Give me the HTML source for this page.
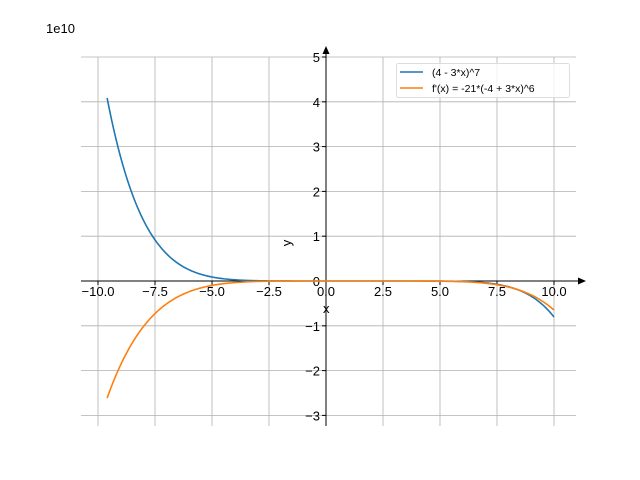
<!DOCTYPE html>
<html><head><style>body{margin:0;background:#fff}svg{display:block;font-family:"Liberation Sans","DejaVu Sans",sans-serif}</style></head>
<body>
<svg id="s" width="640" height="480" xmlns="http://www.w3.org/2000/svg">
<g stroke="#b0b0b0" stroke-width="0.8" id="grid"></g>
<g id="ticks" font-size="13" fill="#000"></g>
<line x1="326" y1="426" x2="326" y2="52" stroke="#000" stroke-width="1"/>
<polygon points="326,46 322.5,54 329.5,54" fill="#000"/>
<line x1="81" y1="281" x2="580" y2="281" stroke="#000" stroke-width="1"/>
<polygon points="586,281 578,277.5 578,284.5" fill="#000"/>
<path id="p1" fill="none" stroke="#1f77b4" stroke-width="1.6"/>
<path id="p2" fill="none" stroke="#ff7f0e" stroke-width="1.6"/>
<text x="46" y="33" font-size="13">1e10</text>
<text x="323" y="313" font-size="13">x</text>
<text x="291" y="243" font-size="13" transform="rotate(-90 291 243)" text-anchor="middle">y</text>
<rect x="396.5" y="63.5" width="173" height="34" rx="2" fill="#fff" fill-opacity="0.8" stroke="#ddd"/>
<line x1="400" y1="72" x2="423" y2="72" stroke="#1f77b4" stroke-width="1.6"/>
<line x1="400" y1="88" x2="423" y2="88" stroke="#ff7f0e" stroke-width="1.6"/>
<text x="432" y="76" font-size="10.5">(4 - 3*x)^7</text>
<text x="432" y="92" font-size="10.5">f'(x) = -21*(-4 + 3*x)^6</text>
</svg>
<script>
var X=function(x){return 326+x*22.8},Y=function(y){return 281-y*44.8/1e10};
var g=document.getElementById('grid'),t=document.getElementById('ticks'),ns='http://www.w3.org/2000/svg';
function el(p,n,a,txt){var e=document.createElementNS(ns,n);for(var k in a)e.setAttribute(k,a[k]);if(txt!=null)e.textContent=txt;p.appendChild(e);}
var xl=['−10.0','−7.5','−5.0','−2.5','0.0','2.5','5.0','7.5','10.0'];
for(var i=0;i<9;i++){var v=-10+2.5*i,px=X(v);el(g,'line',{x1:px,x2:px,y1:57,y2:426});
el(t,'line',{x1:px,x2:px,y1:281,y2:285,stroke:'#000'});el(t,'text',{x:px,y:296,'text-anchor':'middle'},xl[i]);}
for(var j=-3;j<=5;j++){var py=Y(j*1e10);el(g,'line',{x1:81,x2:576,y1:py,y2:py});
el(t,'line',{x1:322,x2:326,y1:py,y2:py,stroke:'#000'});el(t,'text',{x:320,y:py+5,'text-anchor':'end'},j<0?'−'+(-j):''+j);}
var a='',b='',x0=-9.6;for(var k=0;k<=400;k++){var x=x0+k*((10-x0)/400);var u=4-3*x;
a+=(k?'L':'M')+X(x).toFixed(2)+','+Y(Math.pow(u,7)).toFixed(2);
b+=(k?'L':'M')+X(x).toFixed(2)+','+Y(-21*Math.pow(u,6)).toFixed(2);}
document.getElementById('p1').setAttribute('d',a);document.getElementById('p2').setAttribute('d',b);
</script>
</body></html>
